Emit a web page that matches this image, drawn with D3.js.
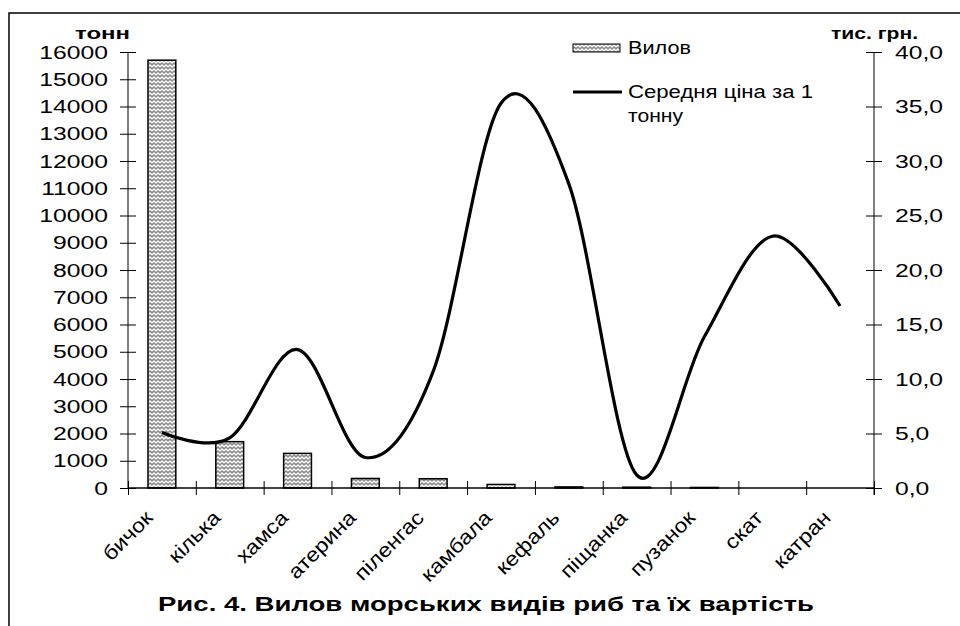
<!DOCTYPE html>
<html>
<head>
<meta charset="utf-8">
<script src="https://cdn.jsdelivr.net/npm/d3@7"></script>
<style>
  body { margin: 0; background: #fff; }
  text { font-family: Arial, "Liberation Sans", sans-serif; fill: #000; }
</style>
</head>
<body>
<svg id="chart" width="960" height="626"></svg>
<script>
var species = ['бичок', 'кілька', 'хамса', 'атерина', 'піленгас', 'камбала',
               'кефаль', 'піщанка', 'пузанок', 'скат', 'катран']
var catch_t = [15700, 1700, 1270, 350, 340, 130, 40, 30, 20, 0, 0]
var price = [5.1, 4.6, 12.7, 2.8, 10.7, 35.3, 27.9, 1.2, 13.9, 23.1, 16.7]
var leftTicks = d3.range(0, 16001, 1000)
var rightTicks = d3.range(0, 40.1, 5)

var svg = d3.select("#chart")
var plotL = 128, plotR = 874, plotT = 52, plotB = 488

// stretch text horizontally, the original looks widened
function stretch(sel, k) {
  sel.each(function() {
    var t = d3.select(this)
    var x = +t.attr("x") || 0
    t.attr("x", x / k).attr("transform", (t.attr("transform") || "") + " scale(" + k + ",1)")
  })
}

// frame
svg.append("path").attr("d", "M9,626 V13 H960").attr("fill", "none").attr("stroke", "#000").attr("stroke-width", 1.5)

// hatch pattern (zigzag weave)
var pat = svg.append("defs").append("pattern")
  .attr("id", "hatch").attr("patternUnits", "userSpaceOnUse")
  .attr("width", 8).attr("height", 8)
pat.append("rect").attr("width", 8).attr("height", 8).attr("fill", "#8a8a8a")
pat.append("path").attr("d", "M0,3 L2,1 L4,3 L6,1 L8,3 M0,7 L2,5 L4,7 L6,5 L8,7")
  .attr("stroke", "#fff").attr("stroke-width", 1.3).attr("fill", "none")

var x = d3.scaleBand().domain(species).range([plotL, plotR]).paddingInner(0.59).paddingOuter(0.295)
var xi = d3.scaleLinear().domain([0, species.length]).range([plotL, plotR])
var y1 = d3.scaleLinear().domain([0, 16000]).range([plotB, plotT])
var y2 = d3.scaleLinear().domain([0, 40]).range([plotB, plotT])

// bars
svg.selectAll(".bar").data(species).join("rect")
  .attr("class", "bar")
  .attr("x", d => x(d))
  .attr("y", (d, i) => y1(catch_t[i]))
  .attr("width", x.bandwidth())
  .attr("height", (d, i) => plotB - y1(catch_t[i]))
  .attr("fill", "url(#hatch)")
  .attr("stroke", (d, i) => catch_t[i] > 0 ? "#000" : "none")
  .attr("stroke-width", 1.5)

// left axis
var gL = svg.append("g").attr("transform", "translate(" + (plotL + 8) + ",0)")
  .call(d3.axisLeft(y1).tickValues(leftTicks).tickSize(16).tickPadding(12).tickFormat(d3.format("d")))
gL.select(".domain").remove()
gL.selectAll("text").attr("font-size", 19).attr("font-family", "Arial, 'Liberation Sans'")
stretch(gL.selectAll("text"), 1.3)
svg.append("line").attr("x1", plotL).attr("x2", plotL).attr("y1", plotT).attr("y2", plotB).attr("stroke", "#000")

// right axis
var gR = svg.append("g").attr("transform", "translate(" + (plotR - 8) + ",0)")
  .call(d3.axisRight(y2).tickValues(rightTicks).tickSize(16).tickPadding(13)
    .tickFormat(d => d3.format(".1f")(d).replace(".", ",")))
gR.select(".domain").remove()
gR.selectAll("text").attr("font-size", 19).attr("font-family", "Arial, 'Liberation Sans'")
stretch(gR.selectAll("text"), 1.3)
svg.append("line").attr("x1", plotR).attr("x2", plotR).attr("y1", plotT).attr("y2", plotB + 7).attr("stroke", "#000")

// x axis
var gX = svg.append("g").attr("transform", "translate(0," + (plotB - 7) + ")")
  .call(d3.axisBottom(xi).tickValues(d3.range(species.length + 1)).tickSize(14).tickFormat(""))
gX.select(".domain").remove()
svg.append("line").attr("x1", plotL).attr("x2", plotR).attr("y1", plotB).attr("y2", plotB).attr("stroke", "#000").attr("stroke-width", 1.5)

// category labels
svg.selectAll(".xlab").data(species).join("text")
  .attr("class", "xlab")
  .attr("text-anchor", "end")
  .attr("font-size", 20)
  .attr("transform", d => "translate(" + (x(d) + x.bandwidth() / 2 - 8) + "," + (plotB + 31) + ") rotate(-45)")
  .text(d => d)
stretch(svg.selectAll(".xlab"), 1.15)

// price line
var line = d3.line()
  .x((d, i) => x(species[i]) + x.bandwidth() / 2)
  .y(d => y2(d))
  .curve(d3.curveCardinal.tension(0))
svg.append("path").datum(price)
  .attr("d", line)
  .attr("fill", "none").attr("stroke", "#000").attr("stroke-width", 3.2)

// axis titles
svg.append("text").attr("x", 75).attr("y", 39).attr("font-size", 17).attr("font-weight", "bold")
  .attr("textLength", 55).attr("lengthAdjust", "spacingAndGlyphs").text("тонн")
svg.append("text").attr("x", 831).attr("y", 39).attr("font-size", 17).attr("font-weight", "bold")
  .attr("textLength", 87).attr("lengthAdjust", "spacingAndGlyphs").text("тис. грн.")

// legend
svg.append("rect").attr("x", 573).attr("y", 44).attr("width", 47).attr("height", 8)
  .attr("fill", "url(#hatch)").attr("stroke", "#000").attr("stroke-width", 1)
svg.append("text").attr("x", 628).attr("y", 54).attr("font-size", 18)
  .attr("textLength", 63).attr("lengthAdjust", "spacingAndGlyphs").text("Вилов")
svg.append("line").attr("x1", 573).attr("x2", 622).attr("y1", 92).attr("y2", 92)
  .attr("stroke", "#000").attr("stroke-width", 3.2)
svg.append("text").attr("x", 628).attr("y", 98).attr("font-size", 18)
  .attr("textLength", 185).attr("lengthAdjust", "spacingAndGlyphs").text("Середня ціна за 1")
svg.append("text").attr("x", 628).attr("y", 122).attr("font-size", 18)
  .attr("textLength", 55).attr("lengthAdjust", "spacingAndGlyphs").text("тонну")

// title
svg.append("text").attr("x", 158).attr("y", 611).attr("font-size", 20).attr("font-weight", "bold")
  .attr("textLength", 656).attr("lengthAdjust", "spacingAndGlyphs")
  .text("Рис. 4. Вилов морських видів риб та їх вартість")
</script>
</body>
</html>
